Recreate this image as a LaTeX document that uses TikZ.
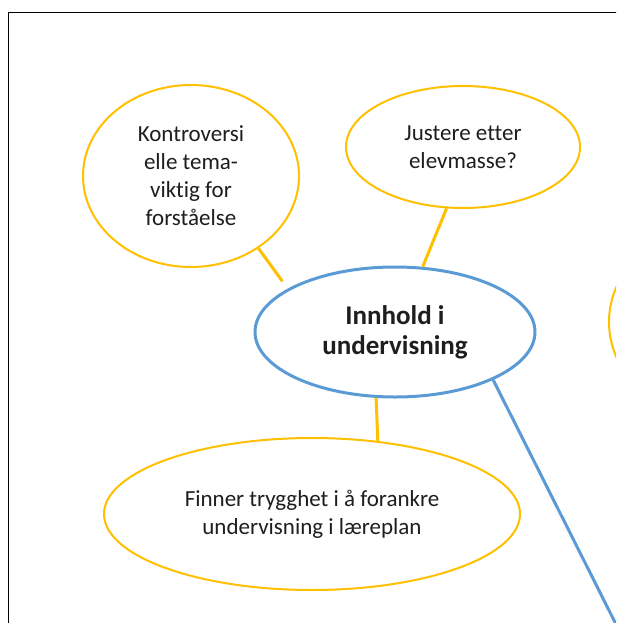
\documentclass[tikz,border=0pt]{standalone}
\usepackage{fontspec}
\setmainfont{Carlito}[Ligatures=NoCommon]
\usetikzlibrary{shapes.geometric}
\definecolor{gold}{RGB}{255,192,0}
\definecolor{mblue}{RGB}{91,155,213}
\definecolor{ink}{RGB}{30,30,30}
\begin{document}
\begin{tikzpicture}[x=1pt,y=-1pt,
  yell/.style={ellipse, draw=gold, line width=2pt, inner sep=0pt, align=center, text=ink, font=\fontsize{23}{28}\selectfont},
  bell/.style={ellipse, draw=mblue, line width=3pt, inner sep=0pt, align=center, text=ink, font=\bfseries\fontsize{27}{30}\selectfont},
  ylink/.style={draw=gold, line width=3pt},
  blink/.style={draw=mblue, line width=3pt}]
\useasboundingbox (0,0) rectangle (616,623);
\clip (0,0) rectangle (616,623);
\fill[white] (0,0) rectangle (616,623);
\draw[line width=1.5pt, black] (8.5,12.5) rectangle (700,700);
\node[bell, minimum width=280pt, minimum height=130pt] (C) at (395,332) {Innhold i\\undervisning};
\node[yell, minimum width=216pt, minimum height=182pt] (L) at (191,176) {Kontroversi\\elle tema-\\viktig for\\forståelse};
\node[yell, minimum width=234pt, minimum height=122pt] (T) at (463,147) {Justere etter\\elevmasse?};
\node[yell, minimum width=416pt, minimum height=152pt] (B) at (312,514) {Finner trygghet i å forankre\\undervisning i læreplan};
\node[yell, minimum width=210pt, minimum height=190pt] (R) at (714,322) {};
\coordinate (off) at (650,692);
\draw[ylink, shorten >=9pt] (L.-47) -- (C.158.6);
\draw[ylink] (T.-105) -- (C.67.5);
\draw[ylink] (C.-106) -- (B.48);
\draw[blink] (C.-26) -- (off);
\end{tikzpicture}
\end{document}
